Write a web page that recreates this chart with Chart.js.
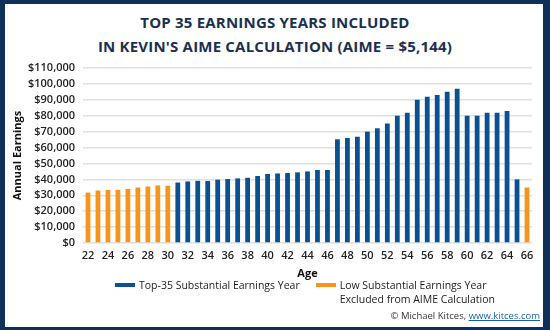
<!DOCTYPE html>
<html>
<head>
<meta charset="utf-8">
<script src="https://cdn.jsdelivr.net/npm/chart.js@4.4.0/dist/chart.umd.min.js"></script>
<style>
  html, body { margin: 0; padding: 0; background: #fff; }
  #frame {
    position: relative; width: 550px; height: 330px; box-sizing: border-box;
    border-style: solid; border-color: #0f3058;
    border-width: 4px 7px 3px 5px; overflow: hidden;
    font-family: "Open Sans", sans-serif;
  }
  #title {
    position: absolute; left: -5px; top: 6px; width: 550px; text-align: center;
    font-weight: 700; font-size: 15px; line-height: 24px; color: #1b3050;
    letter-spacing: 0.2px;
  }
  #chartBox { position: absolute; left: 3px; top: 46px; width: 534px; height: 230px; }
  #legend {
    position: absolute; left: 110px; top: 274px; display: flex;
    font-size: 10.5px; color: #222; line-height: 14px;
  }
  .item { display: flex; align-items: flex-start; margin-right: 16px; }
  .swatch { width: 20px; height: 4px; margin: 5px 4px 0 0; }
  .txt { white-space: pre-line; }
  #credit {
    position: absolute; right: 3px; top: 305px; font-size: 9.5px; color: #333;
  }
  #credit a { color: #1a5fa8; }
</style>
</head>
<body>
<div id="frame">
  <div id="title">TOP 35 EARNINGS YEARS INCLUDED<br>IN KEVIN'S AIME CALCULATION (AIME = $5,144)</div>
  <div id="chartBox"><canvas id="myChart"></canvas></div>
  <div id="legend"></div>
  <div id="credit">© Michael Kitces, <a href="#">www.kitces.com</a></div>
</div>
<script>
// data
var ages = [22, 23, 24, 25, 26, 27, 28, 29, 30, 31, 32, 33, 34, 35, 36, 37, 38, 39, 40, 41, 42, 43,
    44, 45, 46, 47, 48, 49, 50, 51, 52, 53, 54, 55, 56, 57, 58, 59, 60, 61, 62, 63, 64, 65, 66];
var earnings = [31700, 33000, 33400, 33400, 34000, 34900, 35500, 36200, 36000, 38000, 38700, 39100,
    39000, 39800, 40200, 40600, 41000, 42100, 43400, 43700, 44000, 44400, 45000, 45900, 45900,
    65200, 66000, 66800, 70000, 72100, 75100, 80000, 81900, 90100, 92000, 93100, 95000, 96900,
    80000, 80000, 81900, 81900, 82900, 40000, 34900];
var excludedAges = [22, 23, 24, 25, 26, 27, 28, 29, 30, 66];
var yTicks = [0, 10000, 20000, 30000, 40000, 50000, 60000, 70000, 80000, 90000, 100000, 110000];

var topLabel = "Top-35 Substantial Earnings Year";
var lowLabel = "Low Substantial Earnings Year\nExcluded from AIME Calculation";
var blue = "#0b5091";
var orange = "#f7941d";

// split into the two series
var topVals = [];
var lowVals = [];
for (var i = 0; i < ages.length; i++) {
    var isLow = excludedAges.indexOf(ages[i]) >= 0;
    topVals.push(isLow ? null : earnings[i]);
    lowVals.push(isLow ? earnings[i] : null);
}

var ctx = document.getElementById("myChart").getContext("2d");
var myChart = new Chart(ctx, {
    type: "bar",
    data: {
        labels: ages,
        datasets: [
            { label: topLabel, data: topVals, backgroundColor: blue },
            { label: lowLabel, data: lowVals, backgroundColor: orange }
        ]
    },
    options: {
        responsive: true,
        maintainAspectRatio: false,
        animation: false,
        categoryPercentage: 1,
        barPercentage: 0.48,
        layout: { padding: { top: 18, right: 10, left: 0, bottom: 0 } },
        plugins: { legend: { display: false }, tooltip: { enabled: false } },
        scales: {
            x: {
                stacked: true,
                grid: { display: false, drawTicks: false },
                border: { display: false },
                ticks: {
                    autoSkip: false, maxRotation: 0, padding: 6, color: "#222",
                    font: { family: "Open Sans", size: 11, weight: "600" },
                    callback: function (v, idx) { return idx % 2 === 0 ? ages[idx] : ""; }
                },
                title: {
                    display: true, text: "Age", color: "#111", padding: { top: 0, bottom: 0 },
                    font: { family: "Open Sans", size: 11, weight: "700" }
                },
                afterFit: function (scale) { scale.height = 37; }
            },
            y: {
                stacked: true,
                min: 0, max: 110000,
                afterBuildTicks: function (scale) {
                    scale.ticks = yTicks.map(function (v) { return { value: v }; });
                },
                grid: { color: "#e0e0e0", lineWidth: 1.5, drawTicks: false },
                border: { display: false },
                ticks: {
                    autoSkip: false, padding: 8, color: "#222",
                    font: { family: "Open Sans", size: 11, weight: "600" },
                    callback: function (v) { return "$" + v.toLocaleString("en-US"); }
                },
                title: {
                    display: true, text: "Annual Earnings", color: "#111", padding: { top: 3, bottom: 0 },
                    font: { family: "Open Sans", size: 11, weight: "700" }
                },
                afterFit: function (scale) { scale.width = 75; }
            }
        }
    }
});

// html legend from the datasets
var legendHtml = "";
myChart.data.datasets.forEach(function (ds) {
    legendHtml += '<div class="item"><div class="swatch" style="background:' + ds.backgroundColor +
        '"></div><div class="txt">' + ds.label + '</div></div>';
});
document.getElementById("legend").innerHTML = legendHtml;
</script>
</body>
</html>
